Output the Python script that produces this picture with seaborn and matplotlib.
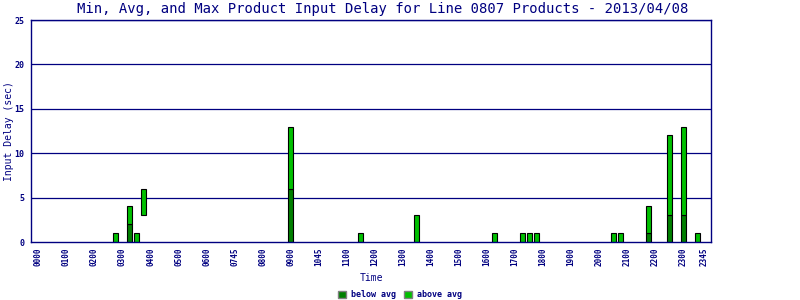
import matplotlib
matplotlib.use("Agg")
import matplotlib.pyplot as plt
from matplotlib.patches import Patch
import numpy as np
import pandas as pd
import seaborn as sns

# ---- data ----
slots = [f"{h:02d}{m:02d}" for h in range(24) for m in (0, 15, 30, 45)]
times = ["0245", "0315", "0330", "0345", "0900", "1130", "1330", "1615", "1715",
         "1730", "1745", "2030", "2045", "2145", "2230", "2300", "2330"]
min_delay = [0, 0, 0, 3, 0, 0, 0, 0, 0, 0, 0, 0, 0, 0, 0, 0, 0]
avg_delay = [0, 2, 0, 3, 6, 0, 0, 0, 0, 0, 0, 0, 0, 1, 3, 3, 0]
max_delay = [1, 4, 1, 6, 13, 1, 3, 1, 1, 1, 1, 1, 1, 4, 12, 13, 1]
tick_pos = list(range(0, 96, 4)) + [95]
tick_labels = ["0000", "0100", "0200", "0300", "0400", "0500", "0600", "0745",
               "0800", "0900", "1045", "1100", "1200", "1300", "1400", "1500",
               "1600", "1700", "1800", "1900", "2000", "2100", "2200", "2300", "2345"]
y_ticks = [0, 5, 10, 15, 20, 25]

NAVY = "#000080"
DARK = "#008000"
LIGHT = "#00C000"
FONT = "DejaVu Sans Mono"

sns.set_style("white")
plt.rcParams["font.family"] = [FONT]

df = pd.DataFrame({"time": times, "lo": min_delay, "avg": avg_delay, "hi": max_delay})
df["pos"] = df["time"].map({s: i for i, s in enumerate(slots)})
df = df.sort_values("pos").reset_index(drop=True)
df["below"] = df["avg"] - df["lo"]
df["above"] = df["hi"] - df["avg"]

fig = plt.figure(figsize=(8, 3), dpi=100)
ax = fig.add_axes([31 / 800, 58 / 300, 680 / 800, 222 / 300])

for y in y_ticks[1:]:
    ax.axhline(y, color=NAVY, lw=0.9, zorder=0)

below = df[df["below"] > 0]
above = df[df["above"] > 0]
sns.barplot(data=below, x="time", y="below", order=slots, bottom=below["lo"].to_numpy(),
            color=DARK, saturation=1, errorbar=None, width=0.72,
            edgecolor="black", linewidth=0.8, ax=ax, zorder=2)
sns.barplot(data=above, x="time", y="above", order=slots, bottom=above["avg"].to_numpy(),
            color=LIGHT, saturation=1, errorbar=None, width=0.72,
            edgecolor="black", linewidth=0.8, ax=ax, zorder=2)

ax.set_xlim(-1.05, 95.95)
ax.set_ylim(0, 25)
ax.set_xticks(tick_pos)
ax.set_xticklabels(tick_labels, rotation=90, fontsize=5.5, color=NAVY,
                   fontweight="bold", family=FONT)
ax.set_yticks(y_ticks)
ax.set_yticklabels([str(v) for v in y_ticks], fontsize=6, color=NAVY,
                   fontweight="bold", family=FONT)
ax.tick_params(axis="both", length=0)
ax.tick_params(axis="x", pad=4)
ax.tick_params(axis="y", pad=5)
ax.set_xlabel("")
ax.set_ylabel("")
for s in ax.spines.values():
    s.set_color(NAVY)
    s.set_linewidth(1.0)
    s.set_visible(True)

fig.text(0.478, 0.97, "Min, Avg, and Max Product Input Delay for Line 0807 Products - 2013/04/08",
         ha="center", va="center", fontsize=10, color=NAVY, family=FONT)
fig.text(0.011, 0.563, "Input Delay (sec)", rotation=90, ha="center", va="center",
         fontsize=7, color=NAVY, family=FONT)
fig.text(0.464, 1 - 278 / 300, "Time", ha="center", va="center",
         fontsize=7, color=NAVY, family=FONT)

handles = [Patch(facecolor=DARK, edgecolor="gray", label="below avg"),
           Patch(facecolor=LIGHT, edgecolor="gray", label="above avg")]
leg = fig.legend(handles=handles, loc="center", bbox_to_anchor=(0.5, 0.017), ncol=2,
                 frameon=False, fontsize=6, handlelength=0.95, handleheight=1.05,
                 handletextpad=0.55, columnspacing=1.0, borderpad=0)
for t in leg.get_texts():
    t.set_color(NAVY)
    t.set_fontweight("bold")

fig.savefig("out.png", dpi=100)
